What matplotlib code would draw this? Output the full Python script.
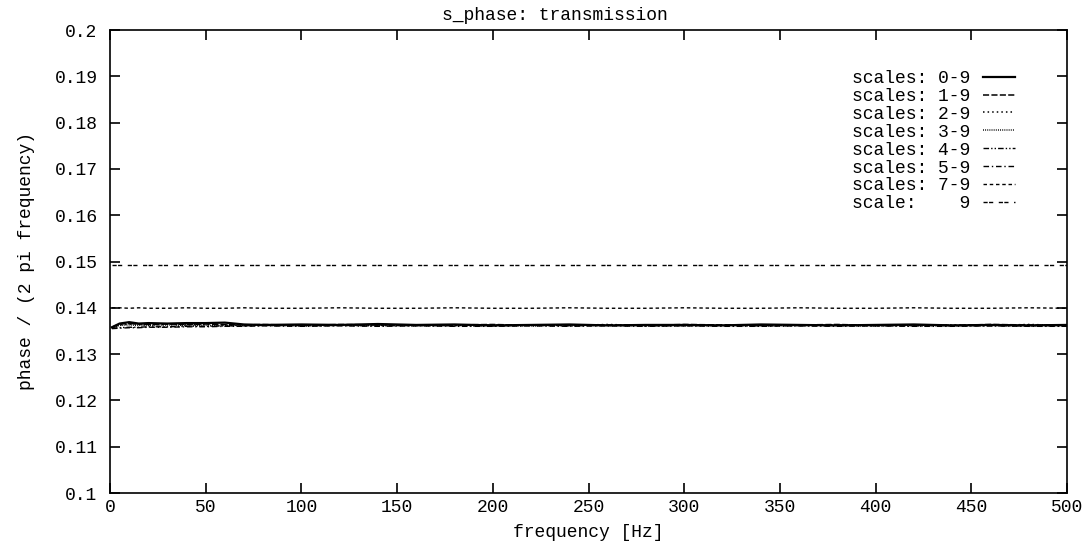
import numpy as np
import matplotlib.pyplot as plt

plt.rcParams['font.family'] = ['Liberation Mono', 'DejaVu Sans Mono']

# frequency sample points [Hz]
freq = [1, 5, 10, 15, 20, 30, 40, 50, 60, 70, 80, 100, 120, 140, 160, 180, 200,
        220, 240, 260, 280, 300, 320, 340, 360, 380, 400, 420, 440, 460, 480, 500]

# phase / (2 pi frequency)
s_0_9 = [0.1358, 0.1366, 0.1369, 0.1366, 0.1367, 0.1366, 0.1367, 0.1367, 0.1368, 0.1364,
         0.1363, 0.1364, 0.1363, 0.1365, 0.1363, 0.1364, 0.1362, 0.1363, 0.1364, 0.1362,
         0.1363, 0.1363, 0.1362, 0.1364, 0.1363, 0.1362, 0.1363, 0.1364, 0.1362, 0.1363,
         0.1362, 0.1363]
s_1_9 = [0.1358, 0.1365, 0.1366, 0.1365, 0.1364, 0.1365, 0.1364, 0.1365, 0.1364, 0.1363,
         0.1364, 0.1362, 0.1364, 0.1363, 0.1362, 0.1363, 0.1364, 0.1362, 0.1363, 0.1363,
         0.1362, 0.1364, 0.1363, 0.1362, 0.1363, 0.1364, 0.1362, 0.1363, 0.1362, 0.1364,
         0.1363, 0.1362]
s_2_9 = [0.1357, 0.1363, 0.1365, 0.1364, 0.1363, 0.1364, 0.1363, 0.1364, 0.1363, 0.1362,
         0.1363, 0.1363, 0.1362, 0.1364, 0.1362, 0.1362, 0.1363, 0.1363, 0.1362, 0.1364,
         0.1362, 0.1362, 0.1363, 0.1363, 0.1362, 0.1363, 0.1363, 0.1362, 0.1363, 0.1362,
         0.1364, 0.1362]
s_3_9 = [0.1357, 0.1362, 0.1363, 0.1362, 0.1362, 0.1363, 0.1362, 0.1362, 0.1362, 0.1362,
         0.1362, 0.1361, 0.1362, 0.1362, 0.1361, 0.1362, 0.1362, 0.1361, 0.1362, 0.1362,
         0.1361, 0.1362, 0.1362, 0.1361, 0.1362, 0.1362, 0.1361, 0.1362, 0.1361, 0.1362,
         0.1362, 0.1361]
s_4_9 = [0.1356, 0.1357, 0.1358, 0.1358, 0.1359, 0.1359, 0.1360, 0.1360, 0.1361, 0.1361,
         0.1362, 0.1361, 0.1362, 0.1361, 0.1362, 0.1361, 0.1361, 0.1362, 0.1361, 0.1362,
         0.1361, 0.1361, 0.1362, 0.1361, 0.1361, 0.1362, 0.1361, 0.1361, 0.1362, 0.1361,
         0.1361, 0.1362]
s_5_9 = [0.1355, 0.1356, 0.1357, 0.1357, 0.1358, 0.1358, 0.1359, 0.1359, 0.1360, 0.1360,
         0.1361, 0.1360, 0.1361, 0.1360, 0.1361, 0.1360, 0.1360, 0.1361, 0.1360, 0.1361,
         0.1360, 0.1361, 0.1360, 0.1360, 0.1361, 0.1360, 0.1361, 0.1360, 0.1360, 0.1361,
         0.1360, 0.1360]
s_7_9 = [0.1400, 0.1400, 0.1399, 0.1400, 0.1399, 0.1399, 0.1400, 0.1399, 0.1399, 0.1400,
         0.1399, 0.1399, 0.1400, 0.1399, 0.1399, 0.1400, 0.1399, 0.1399, 0.1400, 0.1399,
         0.1399, 0.1400, 0.1399, 0.1399, 0.1400, 0.1399, 0.1399, 0.1400, 0.1399, 0.1399,
         0.1400, 0.1399]
s_9 = [0.1493] * len(freq)

labels = ['scales: 0-9', 'scales: 1-9', 'scales: 2-9', 'scales: 3-9',
          'scales: 4-9', 'scales: 5-9', 'scales: 7-9', 'scale:    9']
series = [s_0_9, s_1_9, s_2_9, s_3_9, s_4_9, s_5_9, s_7_9, s_9]

# gnuplot-like dash patterns
styles = ['-', (0, (4, 1.5)), (0, (1, 2)), (0, (0.6, 0.8)),
          (0, (4, 1.5, 1, 1.5, 1, 1.5)), (0, (4, 2, 1, 2)),
          (0, (2.5, 2)), (0, (3, 1, 3, 4))]
widths = [1.6, 1.1, 1.1, 1.1, 1.0, 1.0, 1.0, 1.0]

fs = 13

fig = plt.figure(figsize=(10.86, 5.46), dpi=100)
ax = fig.add_subplot(111)
fig.subplots_adjust(left=110 / 1086, right=1067 / 1086,
                    top=1 - 30 / 546, bottom=1 - 493 / 546)

for y, lab, ls, lw in zip(series, labels, styles, widths):
    ax.plot(freq, y, color='black', linestyle=ls, linewidth=lw, label=lab)

ax.set_xlim(0, 500)
ax.set_ylim(0.1, 0.2)
ax.set_xticks(np.arange(0, 501, 50))
ax.set_yticks(np.arange(0.1, 0.2001, 0.01))
ax.set_yticklabels(['0.1', '0.11', '0.12', '0.13', '0.14', '0.15',
                    '0.16', '0.17', '0.18', '0.19', '0.2'])
ax.tick_params(direction='in', length=7, width=1.2, top=True, right=True,
               labelsize=fs, pad=4)
ax.tick_params(axis='y', pad=9)
for sp in ax.spines.values():
    sp.set_linewidth(1.2)

ax.set_title('s_phase: transmission', fontsize=fs, x=(555 - 110) / 957, pad=7)
ax.set_xlabel('frequency [Hz]', fontsize=fs, labelpad=6)
ax.set_ylabel('phase / (2 pi frequency)', fontsize=fs, labelpad=14)

ax.legend(loc='upper right', bbox_to_anchor=(1015 / 1086, 1 - 70 / 546),
          bbox_transform=fig.transFigure, frameon=False, markerfirst=False,
          fontsize=fs, handlelength=1.8, handletextpad=0.7, labelspacing=0.05,
          borderaxespad=0, borderpad=0)

fig.savefig('out.png', dpi=100)
